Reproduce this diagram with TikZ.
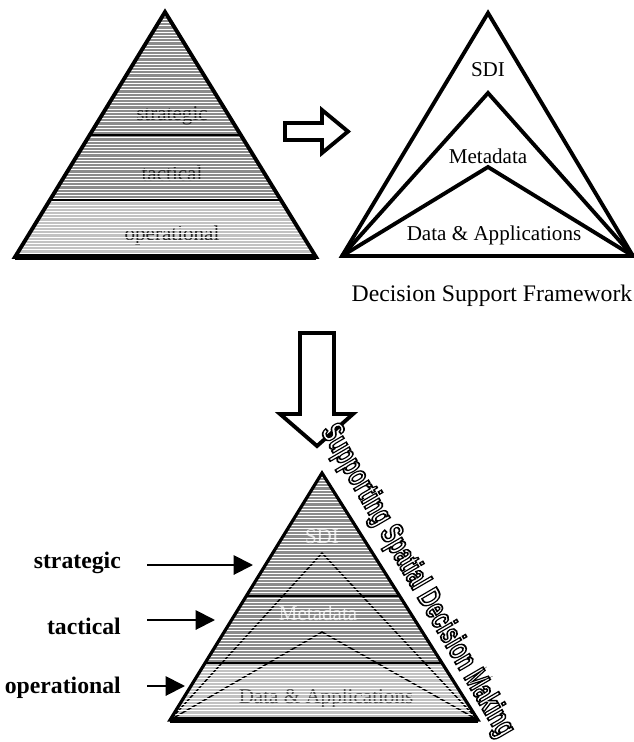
\documentclass[tikz,border=0pt]{standalone}
\usepackage{fontspec}
\usepackage{graphicx}
\setmainfont{Liberation Serif}
\newfontfamily\wordartfont{Liberation Sans}
\usetikzlibrary{calc}
\usetikzlibrary{arrows.meta}
\definecolor{banddark}{gray}{0.55}
\definecolor{bandlight}{gray}{0.76}
% hollow letters: fill white, stroke black
\newcommand{\hollowtext}[1]{\special{pdf:literal direct 2 Tr 1 w 0 0 0 RG}#1\special{pdf:literal direct 0 Tr}}

\tikzset{
  outline/.style={line width=2.2pt, line join=miter},
  hollow/.style={draw, line width=2.2pt, fill=white, line join=miter},
  stripe/.style={white, line width=0.55pt},
  ghost/.style={font=\fontsize{12}{14}\selectfont},
  layer/.style={font=\fontsize{12}{14}\selectfont},
  level/.style={font=\bfseries\fontsize{13.5}{16}\selectfont, anchor=east},
  pointer/.style={-{Triangle[length=11pt,width=11pt]}, line width=1.1pt},
}

\begin{document}
\begin{tikzpicture}[x=0.02cm, y=-0.02cm]
    \useasboundingbox (0,0) rectangle (634,742);

    % Left pyramid
    \coordinate (la) at (165,12);
    \coordinate (ll) at (15,257);
    \coordinate (lr) at (316,257);
    \begin{scope}
        \clip (la) -- (ll) -- (lr) -- cycle;
        \fill[banddark] (0,0) rectangle (330,200);
        \fill[bandlight] (0,200) rectangle (330,260);
        \node[ghost, text=black!85] (lstrat) at (172,116) {strategic};
        \node[ghost, text=black!85] (ltact) at (172,173) {tactical};
        \node[ghost, text=black!85] (loper) at (172,235) {operational};
        \foreach \y in {13,16.2,...,258}
            \draw[stripe] (0,\y) -- (330,\y);
    \end{scope}
    \draw[outline] (la) -- (ll) -- (lr) -- cycle;
    \draw[line width=3.4pt] (ll) -- (lr);
    \draw[line width=1.3pt] ($(la)!0.502!(ll)$) -- ($(la)!0.502!(lr)$);
    \draw[line width=1.3pt] ($(la)!0.767!(ll)$) -- ($(la)!0.767!(lr)$);

    % Hollow arrow to the right
    \draw[hollow] (285,123) -- (322,123) -- (322,110) -- (348,131.5)
        -- (322,153) -- (322,140) -- (285,140) -- cycle;

    % Decision support framework
    \coordinate (ra) at (488,13);
    \coordinate (rm) at (488,93);
    \coordinate (rd) at (488,167);
    \coordinate (rl) at (342,256);
    \coordinate (rr) at (633,256);
    \draw[outline] (rl) -- (ra) -- (rr) -- cycle;
    \draw[outline] (rl) -- (rm) -- (rr);
    \draw[outline] (rl) -- (rd) -- (rr);
    \node[layer] (sdi) at (488,70) {SDI};
    \node[layer] (meta) at (488,156) {Metadata};
    \node[layer] (apps) at (494,235) {Data \& Applications};
    \node[font=\fontsize{13.5}{16}\selectfont] (dsf) at (492,296) {Decision Support Framework};

    % Hollow arrow down
    \draw[hollow] (300,333) -- (334,333) -- (334,414) -- (353,414)
        -- (317,446) -- (280,414) -- (300,414) -- cycle;

    % Bottom pyramid
    \coordinate (ba) at (322,473);
    \coordinate (bl) at (170,720);
    \coordinate (br) at (478,720);
    \coordinate (bm) at (322,553);
    \coordinate (bd) at (322,632);
    \begin{scope}
        \clip (ba) -- (bl) -- (br) -- cycle;
        \fill[banddark] (160,460) rectangle (490,663);
        \fill[bandlight] (160,663) rectangle (490,725);
        \draw[line width=0.8pt] (bl) -- (bm) -- (br);
        \draw[line width=0.8pt] (bl) -- (bd) -- (br);
        \node[ghost, text=black!10] (bsdi) at (322,537) {SDI};
        \node[ghost, text=black!10] (bmeta) at (318,613) {Metadata};
        \node[ghost, text=black!70] (bapps) at (326,698) {Data \& Applications};
        \foreach \y in {474,477.2,...,722}
            \draw[stripe] (160,\y) -- (490,\y);
    \end{scope}
    \draw[line width=1.8pt, line join=miter] (ba) -- (bl) -- (br) -- cycle;
    \draw[line width=3.4pt] (bl) -- (br);
    \draw[line width=1.1pt] ($(ba)!0.498!(bl)$) -- ($(ba)!0.498!(br)$);
    \draw[line width=1.1pt] ($(ba)!0.769!(bl)$) -- ($(ba)!0.769!(br)$);

    % Levels
    \coordinate (tstrat) at (253,565);
    \coordinate (ttact) at (215,620);
    \coordinate (toper) at (185,686);
    \node[level] (strat) at (127,563) {strategic};
    \node[level] (tact) at (127,626) {tactical};
    \node[level] (oper) at (127,688) {operational};
    \draw[pointer] (147,565) -- (tstrat);
    \draw[pointer] (147,620) -- (ttact);
    \draw[pointer] (147,686) -- (toper);

    % Slanted title
    \node[rotate=-59.8, text=white,
          font=\wordartfont\bfseries\fontsize{18}{18}\selectfont] (sdm) at (417,581)
        {\scalebox{0.66}[1]{\hollowtext{Supporting Spatial Decision Making}}};
\end{tikzpicture}
\end{document}
